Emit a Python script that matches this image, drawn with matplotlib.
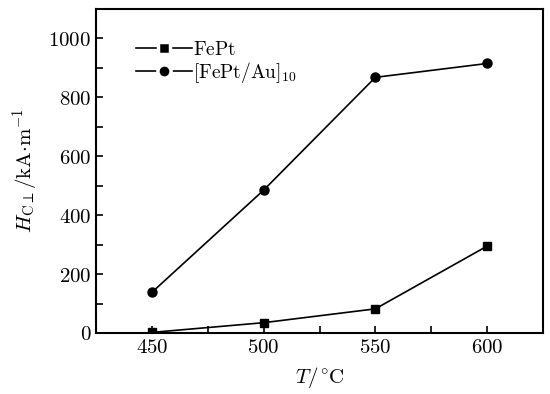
import matplotlib
matplotlib.use("Agg")
import matplotlib.pyplot as plt
from matplotlib.lines import Line2D
from matplotlib.ticker import FuncFormatter, MultipleLocator

plt.rcParams['mathtext.fontset'] = 'cm'
plt.rcParams['font.family'] = 'serif'
plt.rcParams['font.serif'] = ['DejaVu Serif']

temps = [450, 500, 550, 600]
fept = [2, 35, 82, 295]
fept_au = [138, 485, 868, 915]
labels = [r'$\mathrm{FePt}$', r'$\mathrm{[FePt/Au]}_{10}$']

fig = plt.figure(figsize=(5.5, 3.94), dpi=100)
ax = fig.add_axes([96 / 550, 1 - 333 / 394, 447 / 550, 324 / 394])

ax.plot(temps, fept, '-', color='black', lw=1.2, marker='s', ms=6)
ax.plot(temps, fept_au, '-', color='black', lw=1.2, marker='o', ms=6.5)

ax.set_xlim(425, 625)
ax.set_ylim(0, 1100)
ax.xaxis.set_major_locator(MultipleLocator(50))
ax.xaxis.set_minor_locator(MultipleLocator(25))
ax.yaxis.set_major_locator(MultipleLocator(200))
ax.yaxis.set_minor_locator(MultipleLocator(100))
fmt = FuncFormatter(lambda v, p: r'$%d$' % v)
ax.xaxis.set_major_formatter(fmt)
ax.yaxis.set_major_formatter(fmt)
ax.tick_params(which='both', direction='in', labelsize=15, width=1.2, length=5)
for s in ax.spines.values():
    s.set_linewidth(1.5)

ax.set_xlabel(r'$T/^{\circ}\mathrm{C}$', fontsize=15, labelpad=6)
ax.set_ylabel(r'$H_{\mathrm{C}\perp}/\mathrm{kA{\cdot}m^{-1}}$', fontsize=15, labelpad=6)

# legend handles with a small gap around the marker
h1 = Line2D([], [], color='black', lw=1.2, marker='s', ms=9, mec='white', mew=2.5, mfc='black')
h2 = Line2D([], [], color='black', lw=1.2, marker='o', ms=9.5, mec='white', mew=2.5, mfc='black')
ax.legend([h1, h2], labels, loc='upper left', frameon=False, fontsize=14, handlelength=2.9,
          handletextpad=0.05, labelspacing=0.05, bbox_to_anchor=(0.05, 0.955))

fig.savefig('out.png', dpi=100)
